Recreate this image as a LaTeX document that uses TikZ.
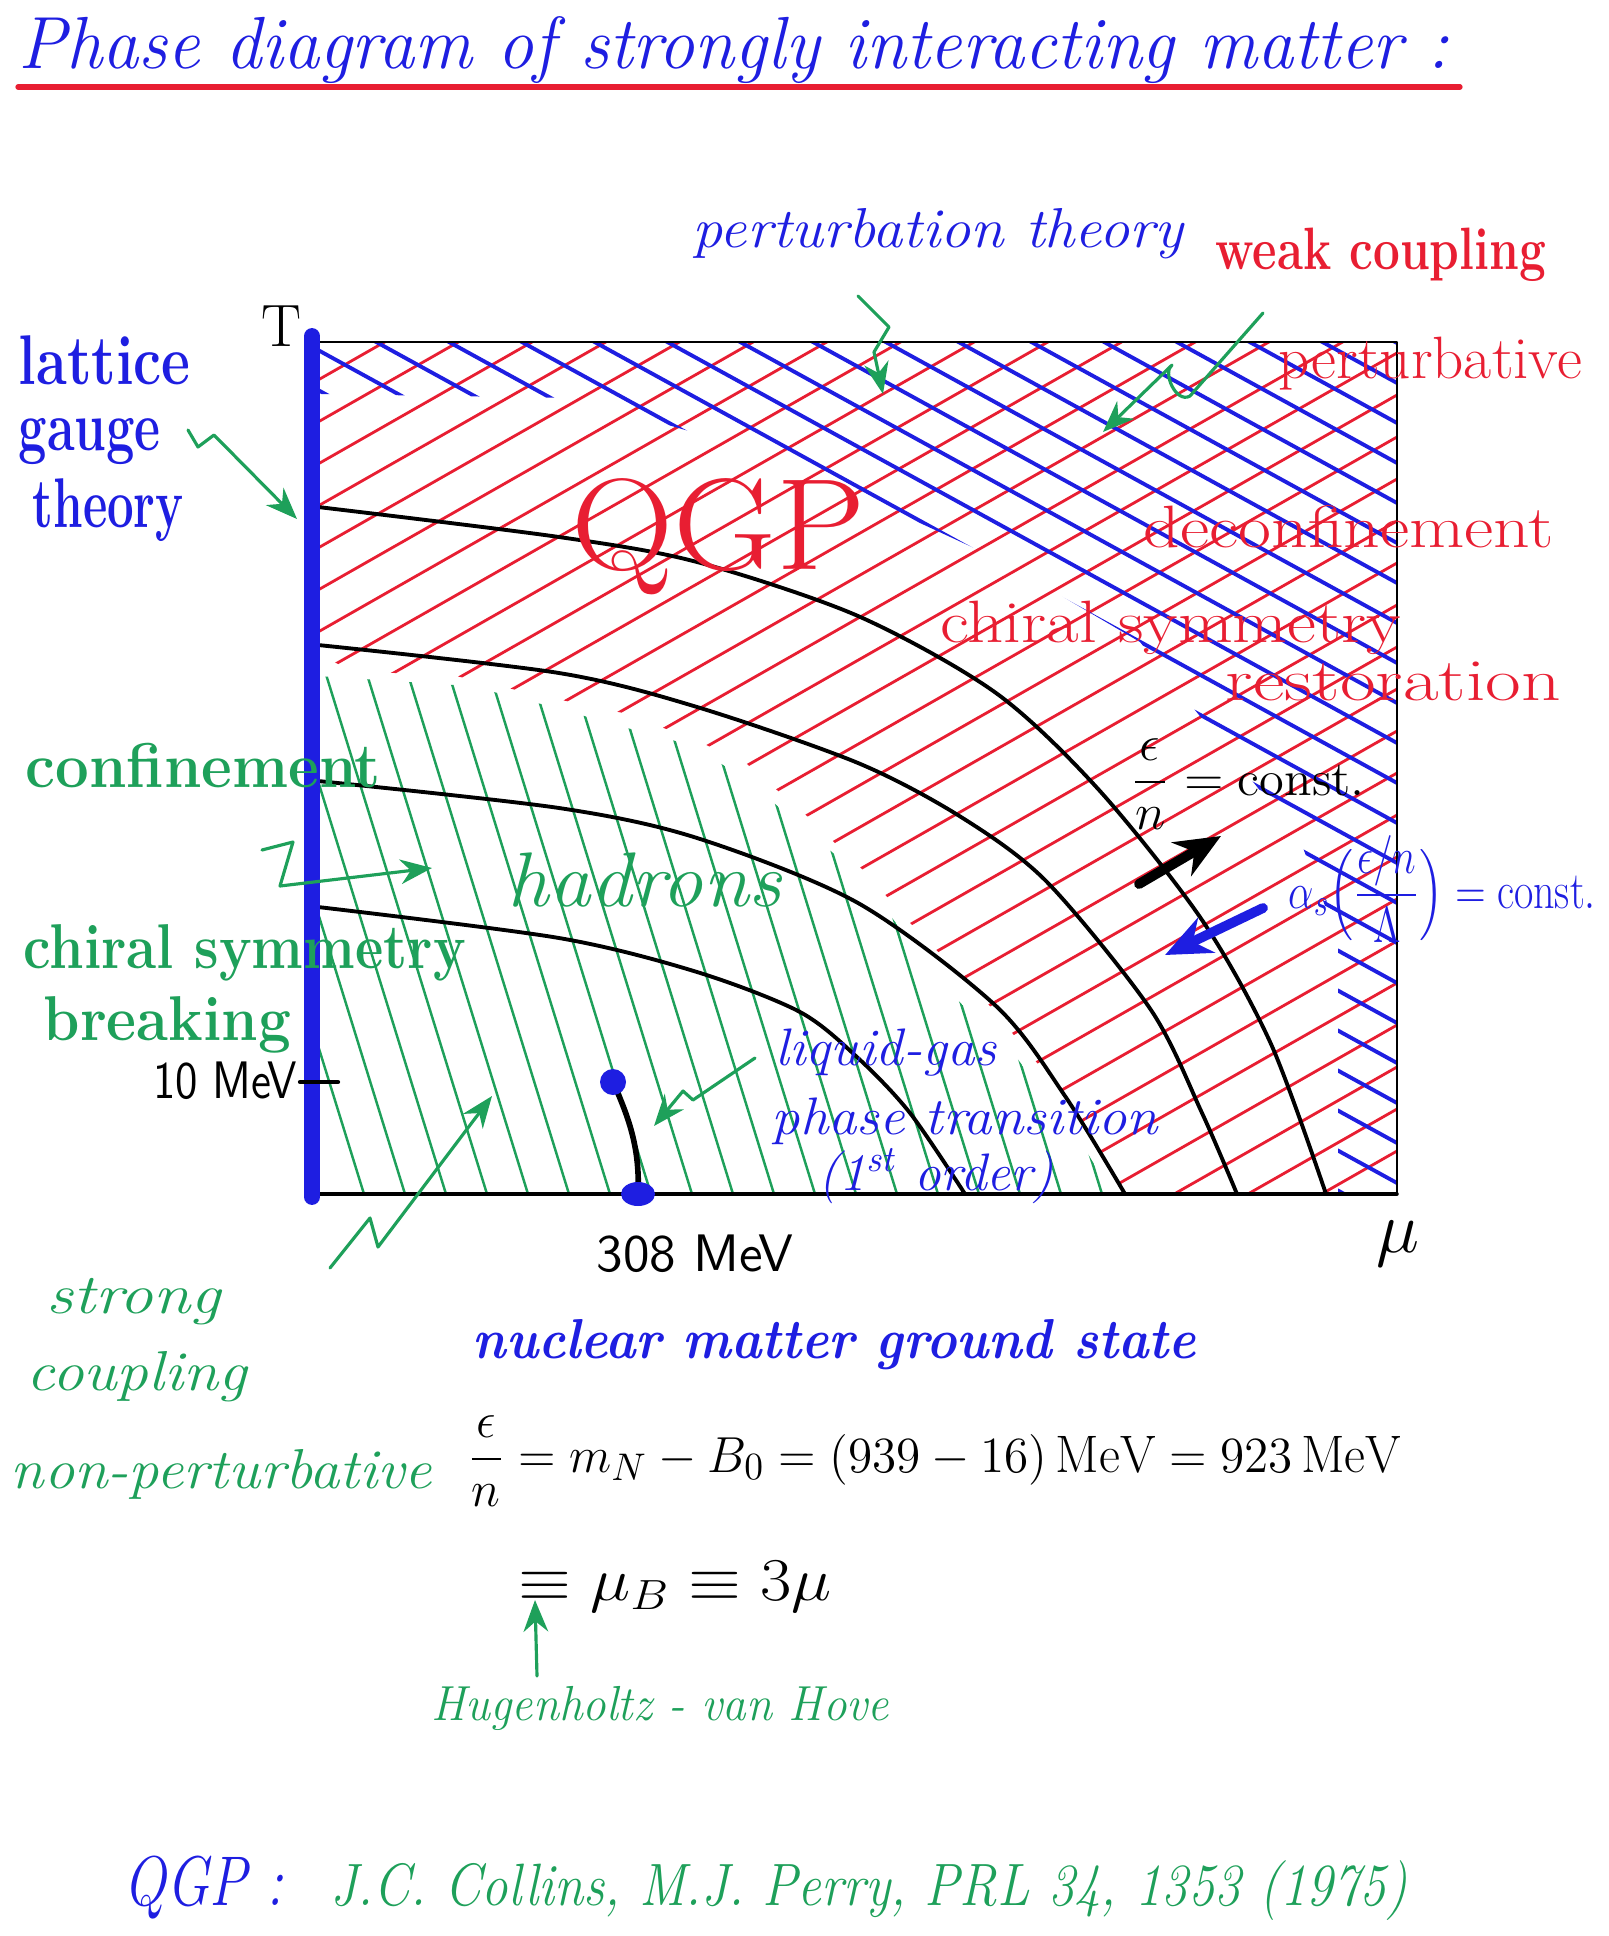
\documentclass[tikz,border=0pt]{standalone}
\usepackage{fontspec}
\usepackage{amsmath}
\usetikzlibrary{arrows.meta}
\definecolor{inkblue}{RGB}{30,30,225}
\definecolor{inkred}{RGB}{232,30,50}
\definecolor{inkgreen}{RGB}{30,160,90}
\newcommand{\fs}[1]{\fontsize{#1pt}{#1pt}\selectfont}
\newcommand{\wide}[2]{\resizebox{#1}{\height}{#2}}
\tikzset{
  hand/.style={inner sep=0pt,anchor=base west},
  bluetxt/.style={hand,text=inkblue},
  redtxt/.style={hand,text=inkred},
  greentxt/.style={hand,text=inkgreen},
  blacktxt/.style={hand,text=black},
  redhatch/.style={inkred,line width=0.8pt},
  bluehatch/.style={inkblue,line width=1.1pt},
  greenhatch/.style={inkgreen,line width=0.7pt},
  isoline/.style={black,line width=1.1pt},
  pointer/.style={inkgreen,line width=0.9pt,-{Stealth[length=9pt,width=7pt]}},
  fat/.style={line width=2.8pt,-{Stealth[length=13pt,width=11pt]}}
}
\begin{document}
\begin{tikzpicture}[x=0.01cm,y=-0.01cm,line join=round,line cap=round]
\useasboundingbox (0,0) rectangle (1608,1936);
\node[bluetxt,font=\fs{21}\itshape] (title) at (18,68) {\wide{14.3cm}{Phase diagram of strongly interacting matter :}};
\draw[inkred,line width=1.5pt] (18,87) -- (1460,87);

\begin{scope}
\clip (318,342) -- (1397,342) -- (1397,1194) -- (1127,1194) -- (1071,1103) -- (1027,1051) -- (975,988) -- (920,934) -- (865,872) -- (807,816) -- (747,764) -- (702,743) -- (628,714) -- (538,695) -- (456,676) -- (354,671) -- (318,655) -- cycle;
\foreach \c in {380,422,...,1850} \draw[redhatch] (318,\c) -- (1397,\c-615);
\end{scope}
\begin{scope}
\clip (318,1194) -- (318,676) -- (470,686) -- (545,705) -- (638,731) -- (683,743) -- (736,772) -- (797,822) -- (861,877) -- (946,989) -- (1013,1053) -- (1082,1144) -- (1112,1194) -- cycle;
\foreach \b in {364,405,...,1110} \draw[greenhatch] (\b,1194) -- (\b-264,342);
\end{scope}
\begin{scope}
\clip (318,342) -- (1397,342) -- (1397,1194) -- (1338,1194) -- (1338,940) -- (1300,840) -- (1140,642) -- (1000,560) -- (775,456) -- (575,398) -- (318,394) -- cycle;
\foreach \d in {-250,-210,...,1190} \draw[bluehatch] (318,\d) -- (1397,\d+593);
\end{scope}

\draw[isoline] plot[smooth] coordinates {(318,507) (559,537) (697,562) (858,616) (996,693) (1099,790) (1202,920) (1271,1044) (1326,1194)};
\draw[isoline] plot[smooth] coordinates {(318,645) (559,673) (697,707) (858,763) (961,817) (1047,882) (1151,1010) (1202,1113) (1237,1194)};
\draw[isoline] plot[smooth] coordinates {(318,781) (559,808) (697,838) (858,903) (996,1006) (1065,1096) (1125,1194)};
\draw[isoline] plot[smooth] coordinates {(318,907) (559,938) (697,972) (800,1012) (858,1058) (910,1113) (965,1194)};

\draw[black,line width=0.5pt] (318,342) rectangle (1397,1194);
\draw[black,line width=1pt] (318,1194) -- (1397,1194);
\draw[inkblue,line width=4.5pt] (312,336) -- (312,1197);
\draw[black,line width=1.2pt] (300,1082) -- (338,1082);

\node[blacktxt,anchor=base,font=\fs{17}] (tlabel) at (281,346) {T};
\node[blacktxt,anchor=base,font=\fs{22}] (mulabel) at (1398,1252) {$\mu$};

\coordinate (cp) at (613,1082);
\coordinate (gs) at (638,1194);
\draw[black,line width=1.6pt] (cp) .. controls (630,1120) and (640,1150) .. (gs);
\fill[inkblue] (cp) circle (13);
\fill[inkblue] (gs) ellipse (17 and 12);

\node[bluetxt,font=\fs{20}\bfseries] (lattice) at (18,384) {\wide{1.72cm}{lattice}};
\node[bluetxt,font=\fs{20}\bfseries] (gauge) at (18,450) {\wide{1.42cm}{gauge}};
\node[bluetxt,font=\fs{20}\bfseries] (theory) at (32,527) {\wide{1.51cm}{theory}};
\node[bluetxt,font=\fs{16}\itshape] (pert) at (692,247) {\wide{4.9cm}{perturbation theory}};
\node[redtxt,font=\fs{17}\bfseries] (weak) at (1215,269) {\wide{3.3cm}{weak coupling}};
\node[redtxt,font=\fs{17}] (pertv) at (1278,378) {\wide{3.03cm}{perturbative}};
\node[redtxt,font=\fs{17}] (deconf) at (1143,547) {\wide{4.1cm}{deconfinement}};
\node[redtxt,font=\fs{17}] (chiralr) at (940,642) {\wide{4.6cm}{chiral symmetry}};
\node[redtxt,font=\fs{17}] (restor) at (1225,700) {\wide{3.35cm}{restoration}};
\node[redtxt,font=\fs{37}] (qgp) at (571,569) {\wide{2.94cm}{QGP}};
\node[greentxt,font=\fs{18}\bfseries] (confin) at (25,787) {\wide{3.55cm}{confinement}};
\node[greentxt,font=\fs{22}\itshape] (hadrons) at (507,906) {\wide{2.74cm}{hadrons}};
\node[greentxt,font=\fs{18}\bfseries] (chiralg) at (23,968) {\wide{4.42cm}{chiral symmetry}};
\node[greentxt,font=\fs{18}\bfseries] (breaking) at (43,1040) {\wide{2.47cm}{breaking}};
\node[blacktxt,anchor=base east,font=\fs{15}\sffamily] (tenmev) at (298,1098) {\wide{1.44cm}{10 MeV}};
\node[bluetxt,font=\fs{15}\itshape] (liquid) at (775,1065) {\wide{2.21cm}{liquid-gas}};
\node[bluetxt,font=\fs{15}\itshape] (phasetr) at (771,1134) {\wide{3.86cm}{phase transition}};
\node[bluetxt,font=\fs{15}\itshape] (order) at (818,1190) {\wide{2.35cm}{(1\textsuperscript{st} order)}};
\node[blacktxt,font=\fs{15}\sffamily] (mev308) at (596,1271) {\wide{1.97cm}{308 MeV}};
\node[greentxt,font=\fs{16}\itshape] (strong) at (46,1313) {\wide{1.74cm}{strong}};
\node[greentxt,font=\fs{16}\itshape] (coupling) at (26,1390) {\wide{2.2cm}{coupling}};
\node[greentxt,font=\fs{16}\itshape] (nonpert) at (10,1488) {\wide{4.21cm}{non-perturbative}};
\node[bluetxt,font=\fs{16}\itshape\bfseries] (nuclear) at (472,1358) {\wide{7.23cm}{nuclear matter ground state}};
\node[blacktxt,font=\fs{15}] (eqn) at (467,1472) {\wide{9.33cm}{$\dfrac{\epsilon}{n}=m_N-B_0=(939-16)\,\mathrm{MeV}=923\,\mathrm{MeV}$}};
\node[blacktxt,font=\fs{17}] (equiv) at (518,1600) {\wide{3.13cm}{$\equiv\mu_B\equiv3\mu$}};
\node[greentxt,font=\fs{14}\itshape] (hugen) at (431,1720) {\wide{4.57cm}{Hugenholtz - van Hove}};
\node[bluetxt,font=\fs{20}\itshape] (qgpref) at (123,1905) {\wide{1.6cm}{QGP :}};
\node[greentxt,font=\fs{17}\itshape] (refline) at (330,1905) {\wide{10.76cm}{J.C. Collins, M.J. Perry, PRL 34, 1353 (1975)}};
\node[blacktxt,font=\fs{14}] (const) at (1130,795) {\wide{2.34cm}{$\dfrac{\epsilon}{n}=\mathrm{const.}$}};
\node[bluetxt,font=\fs{15}] (alphas) at (1288,908) {\wide{3.07cm}{$\alpha_s\Bigl(\dfrac{\epsilon/n}{\Lambda}\Bigr)=\mathrm{const.}$}};

\coordinate (lgtail) at (188,430);
\coordinate (lgtip) at (297,519);
\draw[pointer] (lgtail) -- (198,447) -- (214,435) -- (lgtip);
\coordinate (cftail) at (262,850);
\coordinate (cftip) at (432,868);
\draw[pointer] (cftail) -- (293,842) -- (280,886) -- (cftip);
\coordinate (sctail) at (330,1268);
\coordinate (sctip) at (492,1096);
\draw[pointer] (sctail) -- (370,1218) -- (378,1247) -- (sctip);
\coordinate (lqtail) at (755,1058);
\coordinate (lqtip) at (654,1126);
\draw[pointer] (lqtail) -- (693,1100) -- (683,1091) -- (lqtip);
\coordinate (pttail) at (858,296);
\coordinate (pttip) at (883,394);
\draw[pointer] (pttail) -- (889,327) -- (874,352) -- (pttip);
\coordinate (wktail) at (1263,313);
\coordinate (wktip) at (1103,432);
\draw[pointer] (wktail) -- (1190,396) .. controls (1176,404) and (1162,372) .. (1172,365) -- (wktip);
\coordinate (hvtail) at (537,1676);
\coordinate (hvtip) at (535,1600);
\draw[pointer] (hvtail) -- (hvtip);

\coordinate (uptail) at (1139,884);
\coordinate (uptip) at (1221,836);
\draw[fat,black] (uptail) -- (uptip);
\coordinate (dntail) at (1263,908);
\coordinate (dntip) at (1165,955);
\draw[fat,inkblue] (dntail) -- (dntip);
\end{tikzpicture}
\end{document}
